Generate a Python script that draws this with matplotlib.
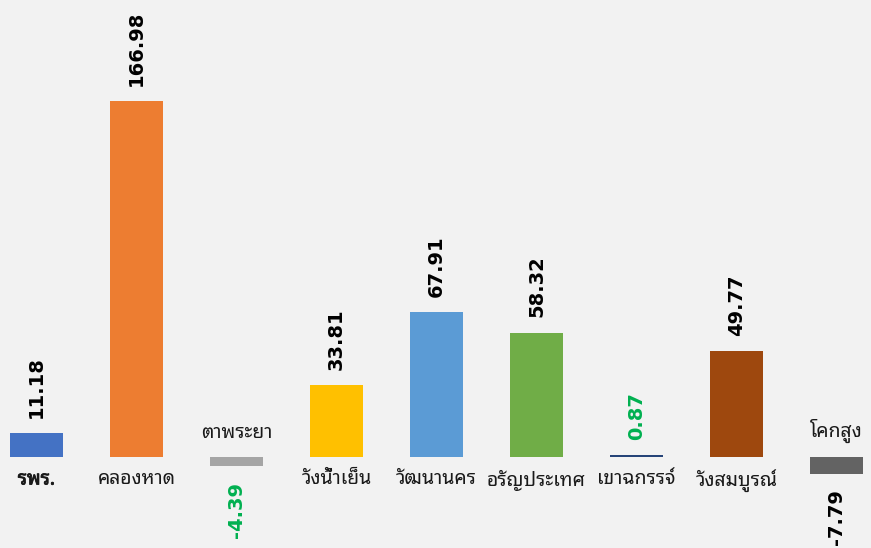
import matplotlib
matplotlib.use("Agg")
import matplotlib.pyplot as plt
import matplotlib.patheffects as pe
from matplotlib import font_manager
from matplotlib.ft2font import FT2Font

categories = ["รพร.", "คลองหาด", "ตาพระยา", "วังน้ำเย็น", "วัฒนานคร",
              "อรัญประเทศ", "เขาฉกรรจ์", "วังสมบูรณ์", "โคกสูง"]
values = [11.18, 166.98, -4.39, 33.81, 67.91, 58.32, 0.87, 49.77, -7.79]
value_labels = ["11.18", "166.98", "-4.39", "33.81", "67.91", "58.32", "0.87", "49.77", "-7.79"]
bar_colors = ["#4472C4", "#ED7D31", "#A5A5A5", "#FFC000", "#5B9BD5",
              "#70AD47", "#264478", "#9E480E", "#636363"]
label_colors = ["#000000", "#000000", "#00B050", "#000000", "#000000",
                "#000000", "#00B050", "#000000", "#000000"]

needed = set(ord(c) for c in "".join(categories))


def adv(font, code):
    try:
        g = font.load_char(code)
        return g.linearHoriAdvance
    except Exception:
        return None


# pick the best font file with Thai glyphs: proportional, regular weight, looped
candidates = []
for path in font_manager.findSystemFonts():
    try:
        f = FT2Font(path)
        cm = f.get_charmap()
    except Exception:
        continue
    if 0x0E01 not in cm:
        continue
    cover = len(needed & set(cm.keys()))
    try:
        f.set_size(12, 72)
    except Exception:
        pass
    mark_adv = adv(f, 0x0E31)
    i_adv = adv(f, ord("i"))
    m_adv = adv(f, ord("m"))
    style = (getattr(f, "style_name", "") or "").lower()
    fam = (getattr(f, "family_name", "") or "").lower()
    score = cover * 10
    if mark_adv == 0:
        score += 100
    if i_adv is not None and m_adv is not None and i_adv != m_adv:
        score += 50
    if "mono" in fam:
        score -= 40
    if "sans" in fam:
        score += 10
    if "looped" in fam:
        score += 15
    if any(w in style for w in ("thin", "light", "extra", "ultra", "black", "heavy", "condensed")):
        score -= 60
    if style in ("regular", "book", "normal", "roman"):
        score += 25
    elif "medium" in style:
        score += 15
    if "bold" in style:
        score -= 20
    if "italic" in style or "oblique" in style:
        score -= 30
    candidates.append((score, path, fam, style))
candidates.sort(key=lambda t: -t[0])

thai_fp = font_manager.FontProperties(fname=candidates[0][1]) if candidates else None

fig = plt.figure(figsize=(8.71, 5.48), dpi=100, facecolor="#F2F2F2")
ax = fig.add_axes([0, 0, 1, 1], facecolor="#F2F2F2")

x = list(range(len(values)))
ax.bar(x, values, width=0.53, color=bar_colors, zorder=2)

ax.set_xlim(-0.365, 8.345)
ax.set_ylim(-42.7, 214.4)
ax.axis("off")

CAT_COLOR = "#1a1a1a"


def cat_font():
    if thai_fp is None:
        return font_manager.FontProperties(family="DejaVu Sans", size=13)
    fp = thai_fp.copy()
    fp.set_size(14)
    return fp


for i, v in enumerate(values):
    effects = [pe.withStroke(linewidth=0.6, foreground=CAT_COLOR)] if i == 0 else []
    if v >= 0:
        ax.annotate(value_labels[i], (i, v), xytext=(0, 11), textcoords="offset points",
                    rotation=90, ha="center", va="bottom", fontsize=14,
                    fontweight="bold", color=label_colors[i], family=["DejaVu Sans"])
        ax.annotate(categories[i], (i, 0), xytext=(0, -9), textcoords="offset points",
                    ha="center", va="top", color=CAT_COLOR, fontproperties=cat_font(),
                    path_effects=effects)
    else:
        ax.annotate(value_labels[i], (i, v), xytext=(0, -11), textcoords="offset points",
                    rotation=90, ha="center", va="top", fontsize=14,
                    fontweight="bold", color=label_colors[i], family=["DejaVu Sans"])
        ax.annotate(categories[i], (i, 0), xytext=(0, 10), textcoords="offset points",
                    ha="center", va="bottom", color=CAT_COLOR, fontproperties=cat_font(),
                    path_effects=effects)

fig.savefig("out.png", dpi=100, facecolor="#F2F2F2")
